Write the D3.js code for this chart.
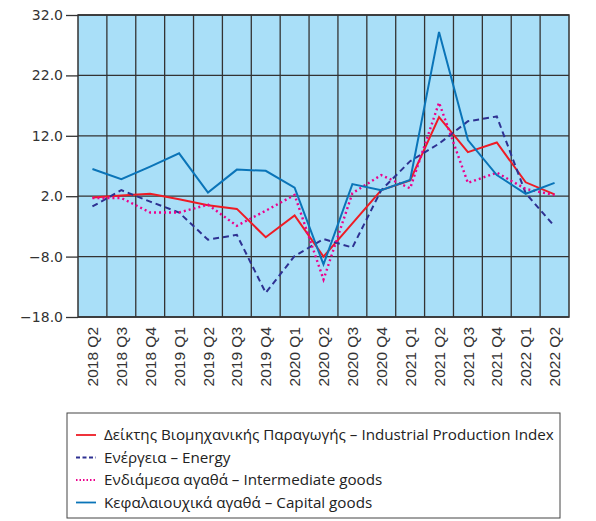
<!DOCTYPE html>
<html>
<head>
<meta charset="utf-8">
<script src="https://cdn.jsdelivr.net/npm/d3@7"></script>
<style>
  body { margin: 0; background: #fff; }
  svg { display: block; }
</style>
</head>
<body>
<div id="chart"></div>
<script>
var quarters = ["2018 Q2", "2018 Q3", "2018 Q4", "2019 Q1", "2019 Q2", "2019 Q3", "2019 Q4",
    "2020 Q1", "2020 Q2", "2020 Q3", "2020 Q4", "2021 Q1", "2021 Q2", "2021 Q3", "2021 Q4",
    "2022 Q1", "2022 Q2"];

// year-on-year % change
var industrial = [1.8, 2.1, 2.4, 1.5, 0.5, -0.1, -4.8, -1.2, -8.0, -2.5, 3.0, 4.6, 15.1, 9.3, 10.9, 4.3, 2.3];
var energy = [0.3, 3.0, 1.1, -0.7, -5.2, -4.4, -14.0, -7.9, -5.1, -6.5, 3.0, 7.8, 10.7, 14.4, 15.2, 2.5, -3.0];
var intermediate = [1.7, 1.7, -0.7, -0.7, 0.6, -2.9, -0.4, 2.2, -11.8, 2.5, 5.5, 3.3, 17.5, 4.2, 5.9, 3.2, 2.2];
var capital = [6.5, 4.8, 6.9, 9.1, 2.6, 6.4, 6.2, 3.4, -9.3, 4.0, 3.0, 4.7, 29.2, 11.3, 5.5, 2.4, 4.2];

var yTicks = [-18, -8, 2, 12, 22, 32];

var seriesNames = [
    "Δείκτης Βιομηχανικής Παραγωγής – Industrial Production Index",
    "Ενέργεια – Energy",
    "Ενδιάμεσα αγαθά – Intermediate goods",
    "Κεφαλαιουχικά αγαθά – Capital goods"
];

var series = [
    { name: seriesNames[0], values: industrial, color: "#ee1c25", dash: null, width: 2 },
    { name: seriesNames[1], values: energy, color: "#2e3192", dash: "6,4", width: 2 },
    { name: seriesNames[2], values: intermediate, color: "#ec008c", dash: "2,3", width: 2.4 },
    { name: seriesNames[3], values: capital, color: "#0a74b8", dash: null, width: 2 }
];

var margin = { top: 15, right: 27, bottom: 204, left: 78 },
    width = 596 - margin.left - margin.right,
    height = 521 - margin.top - margin.bottom;

var svg = d3.select("#chart").append("svg")
    .attr("width", 596)
    .attr("height", 521);

var g = svg.append("g")
    .attr("transform", "translate(" + margin.left + "," + margin.top + ")");

var x = d3.scaleBand()
    .domain(quarters)
    .range([0, width])
    .padding(0);

var y = d3.scaleLinear()
    .domain([-18, 32])
    .range([height, 0]);

// plot background
g.append("rect")
    .attr("width", width)
    .attr("height", height)
    .attr("fill", "#a9dff8");

// vertical grid lines on band edges
g.selectAll(".vgrid")
    .data(quarters.slice(1))
    .enter().append("line")
    .attr("class", "vgrid")
    .attr("x1", function(d) { return x(d); })
    .attr("x2", function(d) { return x(d); })
    .attr("y1", 0)
    .attr("y2", height)
    .attr("stroke", "#333")
    .attr("stroke-width", 1.3);

// horizontal grid + y axis
var yAxis = g.append("g")
    .call(d3.axisLeft(y)
        .tickValues(yTicks)
        .tickFormat(d3.format(".1f"))
        .tickSize(12)
        .tickPadding(3));
yAxis.select(".domain").remove();
yAxis.selectAll("line").attr("stroke", "#333").attr("stroke-width", 1.3);
yAxis.selectAll("text")
    .attr("font-family", "DejaVu Sans, sans-serif")
    .attr("font-size", "14px")
    .attr("fill", "#333");

g.selectAll(".hgrid")
    .data(yTicks)
    .enter().append("line")
    .attr("class", "hgrid")
    .attr("x1", 0)
    .attr("x2", width)
    .attr("y1", function(d) { return y(d); })
    .attr("y2", function(d) { return y(d); })
    .attr("stroke", "#333")
    .attr("stroke-width", 1.3);

// frame
g.append("rect")
    .attr("width", width)
    .attr("height", height)
    .attr("fill", "none")
    .attr("stroke", "#333")
    .attr("stroke-width", 1.5);

// x labels, rotated
var xAxis = g.append("g")
    .attr("transform", "translate(0," + height + ")")
    .call(d3.axisBottom(x).tickSize(0).tickPadding(0));
xAxis.select(".domain").remove();
xAxis.selectAll("text")
    .attr("font-family", "Liberation Sans, Arial, sans-serif")
    .attr("font-size", "15.5px")
    .attr("fill", "#333")
    .attr("text-anchor", "end")
    .attr("transform", "rotate(-90)")
    .attr("x", -10)
    .attr("y", 0)
    .attr("dy", "0.36em");

var line = d3.line()
    .x(function(d, i) { return x(quarters[i]) + x.bandwidth() / 2; })
    .y(function(d) { return y(d); });

series.forEach(function(s) {
    g.append("path")
        .datum(s.values)
        .attr("fill", "none")
        .attr("stroke", s.color)
        .attr("stroke-width", s.width)
        .attr("stroke-dasharray", s.dash)
        .attr("stroke-linejoin", "miter")
        .attr("d", line);
});

// legend
var legend = svg.append("g").attr("transform", "translate(67,413)");
legend.append("rect")
    .attr("width", 493)
    .attr("height", 105)
    .attr("fill", "#fff")
    .attr("stroke", "#444")
    .attr("stroke-width", 1);

var rows = legend.selectAll(".row")
    .data(series)
    .enter().append("g")
    .attr("transform", function(d, i) { return "translate(0," + (22 + i * 22.5) + ")"; });

rows.append("line")
    .attr("x1", 9)
    .attr("x2", 29)
    .attr("stroke", function(d) { return d.color; })
    .attr("stroke-width", 1.8)
    .attr("stroke-dasharray", function(d) { return d.dash ? (d.dash === "2,3" ? "1.5,2" : "4,2.5") : null; });

rows.append("text")
    .attr("x", 37)
    .attr("dy", "0.35em")
    .attr("font-family", "Open Sans, sans-serif")
    .attr("font-size", "15.2px")
    .attr("fill", "#222")
    .text(function(d) { return d.name; });
</script>
</body>
</html>
